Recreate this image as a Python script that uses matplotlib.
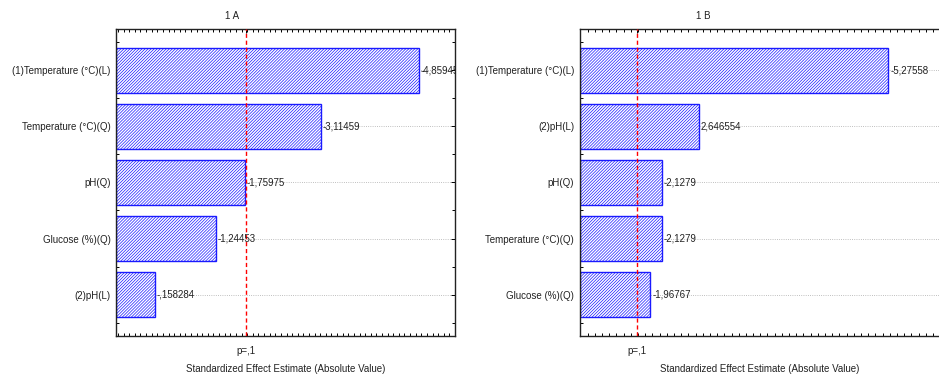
import matplotlib
matplotlib.use("Agg")
import matplotlib.pyplot as plt
from matplotlib.ticker import MultipleLocator, FixedLocator

plt.rcParams['font.family'] = ['Liberation Sans', 'DejaVu Sans']
plt.rcParams['hatch.linewidth'] = 0.5

# Pareto chart data (standardized effects, signed)
terms_a = ["(1)Temperature (°C)(L)", "Temperature (°C)(Q)", "pH(Q)", "Glucose (%)(Q)", "(2)pH(L)"]
effects_a = [-4.85945, -3.11459, -1.75975, -1.24453, -0.158284]

terms_b = ["(1)Temperature (°C)(L)", "(2)pH(L)", "pH(Q)", "Temperature (°C)(Q)", "Glucose (%)(Q)"]
effects_b = [-5.27558, 2.646554, -2.1279, -2.1279, -1.96767]

p_crit = 1.78   # critical t for p=,1
p_label = "p=,1"


def fmt(v):
    s = f"{v:.7g}"
    s = s.replace("-0.", "-.").replace("0.", ".") if abs(v) < 1 else s
    return s.replace(".", ",")


def pareto(ax, terms, effects, xlim, title, title_x, right_ticks=True):
    n = len(terms)
    ypos = list(range(n))
    vals = [abs(e) for e in effects]
    left = xlim[0]
    ax.barh(ypos, [v - left for v in vals], left=left, height=0.8,
            color="white", edgecolor="#1a1aff", hatch="/" * 11, linewidth=1.0, zorder=2)
    for y, v, e in zip(ypos, vals, effects):
        ax.text(v + 0.03, y, fmt(e), va="center", ha="left", fontsize=7,
                color="#222222", clip_on=True, zorder=4)
    ax.axvline(p_crit, color="red", linestyle=(0, (3, 2)), linewidth=1.0, zorder=3)
    ax.set_xlim(*xlim)
    ax.set_ylim(n - 1 + 0.74, -0.74)
    ax.yaxis.set_major_locator(FixedLocator(ypos))
    ax.set_yticklabels(terms)
    ax.yaxis.set_minor_locator(FixedLocator([y + 0.5 for y in range(-1, n)]))
    ax.xaxis.set_major_locator(FixedLocator([p_crit]))
    ax.set_xticklabels([p_label])
    ax.xaxis.set_minor_locator(MultipleLocator(0.1))
    ax.tick_params(axis="both", which="both", direction="in", top=True, right=right_ticks,
                   labelsize=7, labelcolor="#222222", width=0.7)
    ax.tick_params(axis="x", which="major", length=3, pad=7)
    ax.tick_params(axis="x", which="minor", length=2)
    ax.tick_params(axis="y", which="major", length=3, pad=4)
    ax.tick_params(axis="y", which="minor", length=2)
    ax.grid(axis="y", which="major", linestyle=":", color="#aaaaaa", linewidth=0.6, zorder=0)
    ax.set_axisbelow(True)
    for sp in ax.spines.values():
        sp.set_linewidth(1.0)
        sp.set_color("#222222")
    ax.set_xlabel("Standardized Effect Estimate (Absolute Value)", fontsize=7,
                  color="#222222", labelpad=6)
    ax.figure.text(title_x, 0.958, title, ha="center", va="center", fontsize=7, color="#222222")


fig = plt.figure(figsize=(9.39, 3.79), dpi=100)
ax_a = fig.add_axes([0.1235, 0.1135, 0.3611, 0.81])
ax_b = fig.add_axes([0.6174, 0.1135, 0.3838, 0.81])

pareto(ax_a, terms_a, effects_a, (-0.536, 5.5), "1 A", 0.247)
pareto(ax_b, terms_b, effects_b, (0.99, 6.0), "1 B", 0.749, right_ticks=False)

fig.savefig("out.png", dpi=100)
